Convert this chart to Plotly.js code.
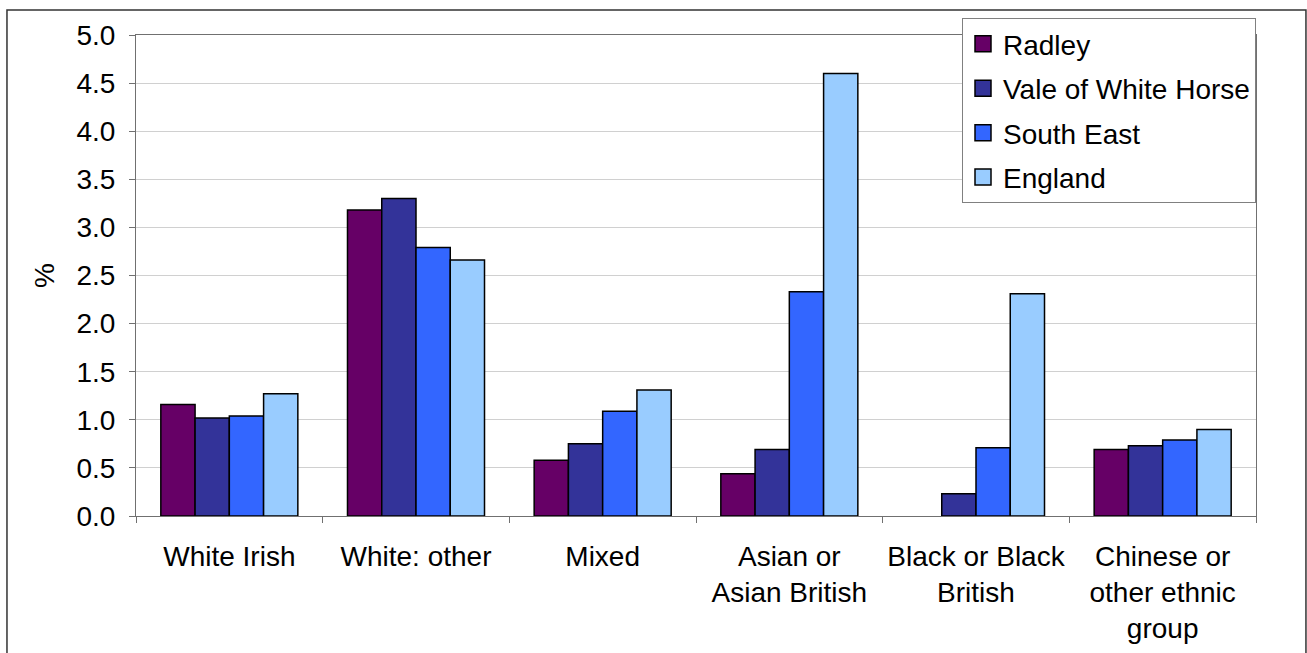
<!DOCTYPE html>
<html>
<head>
<meta charset="utf-8">
<script src="https://cdn.plot.ly/plotly-3.0.1.min.js"></script>
<style>
  html, body { margin: 0; padding: 0; background: #ffffff; }
  #chart { width: 1307px; height: 653px; }
</style>
</head>
<body>
<div id="chart"></div>
<script>
const categories = [
  "White Irish",
  "White: other",
  "Mixed",
  "Asian or<br>Asian British",
  "Black or Black<br>British",
  "Chinese or<br>other ethnic<br>group"
];
const seriesNames = ["Radley", "Vale of White Horse", "South East", "England"];
const radley = [1.16, 3.18, 0.58, 0.44, 0, 0.69];
const valeOfWhiteHorse = [1.02, 3.30, 0.75, 0.69, 0.23, 0.73];
const southEast = [1.04, 2.79, 1.09, 2.33, 0.71, 0.79];
const england = [1.27, 2.66, 1.31, 4.60, 2.31, 0.90];
const yTickValues = [0, 0.5, 1, 1.5, 2, 2.5, 3, 3.5, 4, 4.5, 5];

const seriesValues = [radley, valeOfWhiteHorse, southEast, england];
const seriesColors = ["#660066", "#333399", "#3366FF", "#99CCFF"];

const FONT = "'Liberation Sans', Arial, sans-serif";
const FS = 28;

const traces = seriesNames.map((name, i) => ({
  type: "bar",
  name: name,
  x: categories,
  y: seriesValues[i],
  legendgroup: "g" + i,
  marker: {
    color: seriesColors[i],
    line: { color: "#000000", width: seriesValues[i].map(v => (v === 0 ? 0 : 1.5)) }
  },
  hoverinfo: "x+y+name"
}));

const layout = {
  width: 1307,
  height: 653,
  margin: { l: 136, r: 51, t: 35, b: 137 },
  paper_bgcolor: "#ffffff",
  plot_bgcolor: "#ffffff",
  font: { family: FONT, size: FS, color: "#000000" },
  barmode: "group",
  bargap: 0.266,
  bargroupgap: 0,
  showlegend: true,
  legend: {
    x: 1, xanchor: "right",
    y: 1.035, yanchor: "top",
    bgcolor: "#ffffff",
    bordercolor: "#808080",
    borderwidth: 1,
    font: { family: FONT, size: FS, color: "#000000" },
    traceorder: "grouped",
    tracegroupgap: 5
  },
  xaxis: {
    type: "category",
    tickson: "boundaries",
    tickangle: 0,
    ticks: "outside",
    ticklen: 6,
    tickcolor: "#707070",
    showline: true,
    linecolor: "#707070",
    linewidth: 1,
    mirror: true,
    showgrid: false,
    ticklabelstandoff: 15,
    tickfont: { family: FONT, size: FS, color: "#000000" }
  },
  yaxis: {
    range: [0, 5],
    tickvals: yTickValues,
    tickformat: ".1f",
    ticks: "outside",
    ticklen: 6,
    tickcolor: "#707070",
    showline: true,
    linecolor: "#707070",
    linewidth: 1,
    mirror: true,
    showgrid: true,
    gridcolor: "#d0d0d0",
    gridwidth: 1,
    zeroline: false,
    ticklabelstandoff: 8,
    tickfont: { family: FONT, size: FS, color: "#000000" },
    title: { text: "%", standoff: 13, font: { family: FONT, size: FS, color: "#000000" } }
  },
  shapes: [{
    type: "rect", xref: "paper", yref: "paper",
    x0: -0.1152, x1: 1.0446, y0: -0.32, y1: 1.052,
    line: { color: "#333333", width: 1.5 },
    fillcolor: "rgba(0,0,0,0)",
    layer: "below"
  }]
};

function enlargeLegendSymbols() {
  document.querySelectorAll("#chart .legend .legendpoints path").forEach(p => {
    p.setAttribute("d", "M8,8H-8V-8H8Z");
    p.style.strokeWidth = "1.5px";
    p.style.stroke = "#000000";
  });
}

Plotly.newPlot("chart", traces, layout, { displayModeBar: false, responsive: false })
  .then(gd => {
    enlargeLegendSymbols();
    gd.on("plotly_afterplot", enlargeLegendSymbols);
  });
</script>
</body>
</html>
